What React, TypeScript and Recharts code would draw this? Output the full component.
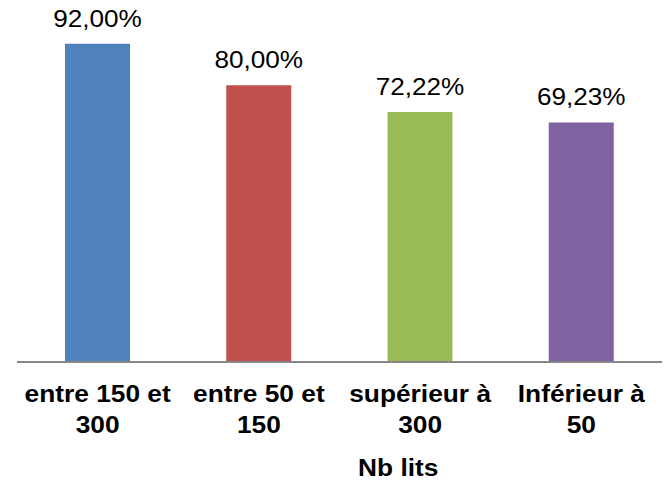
import { BarChart, Bar, XAxis, YAxis, Cell, LabelList } from "recharts";

// Taux par tranche de nombre de lits
const CATEGORIES = ["entre 150 et\n300", "entre 50 et\n150", "supérieur à\n300", "Inférieur à\n50"];
const VALEURS = [0.92, 0.8, 0.7222, 0.6923];
const COULEURS = ["#4F81BD", "#C0504D", "#9BBB59", "#8064A2"];
const AXIS_TITLE = "Nb lits";

const data = CATEGORIES.map((nom, i) => ({ nom, valeur: VALEURS[i] }));

const FONT = "Liberation Sans, Arial, sans-serif";
// le texte de l'original est un peu étiré en largeur
const STRETCH = 1.12;

function CategoryTick(props: any) {
  const { x, y, payload } = props;
  const lines = String(payload.value).split("\n");
  return (
    <g transform={`translate(${x},${y}) scale(${STRETCH},1)`}>
      <text textAnchor="middle" fontFamily={FONT} fontSize={23.5} fontWeight="bold" fill="#000">
        {lines.map((l, i) => (
          <tspan key={i} x={0} y={40 + i * 31}>
            {l}
          </tspan>
        ))}
      </text>
    </g>
  );
}

function formatPct(v: number): string {
  return (v * 100).toFixed(2).replace(".", ",") + "%";
}

function ValueLabel(props: any) {
  const { x, y, width, value } = props;
  return (
    <g transform={`translate(${x + width / 2},${y - 17}) scale(1.09,1)`}>
      <text textAnchor="middle" fontFamily={FONT} fontSize={24} fill="#000">
        {formatPct(value)}
      </text>
    </g>
  );
}

function AxisTitle(props: any) {
  const { viewBox } = props;
  const cx = viewBox.x + viewBox.width * 0.591;
  return (
    <g transform={`translate(${cx},476) scale(${STRETCH},1)`}>
      <text textAnchor="middle" fontFamily={FONT} fontSize={23.5} fontWeight="bold" fill="#000">
        {AXIS_TITLE}
      </text>
    </g>
  );
}

export default function App() {
  return (
    <div style={{ position: "absolute", left: 0, top: 0, background: "#fff" }}>
      <BarChart
        width={667}
        height={482}
        data={data}
        margin={{ top: 16, right: 5, left: 17, bottom: 0 }}
      >
        <YAxis hide domain={[0, 1]} />
        <XAxis
          dataKey="nom"
          height={120}
          interval={0}
          tickLine={false}
          tickSize={0}
          tickMargin={0}
          axisLine={{ stroke: "#878787", strokeWidth: 2 }}
          tick={<CategoryTick />}
          label={<AxisTitle />}
        />
        <Bar dataKey="valeur" barSize={65} isAnimationActive={false}>
          {data.map((d, i) => (
            <Cell key={d.nom} fill={COULEURS[i]} />
          ))}
          <LabelList dataKey="valeur" content={<ValueLabel />} />
        </Bar>
      </BarChart>
    </div>
  );
}
